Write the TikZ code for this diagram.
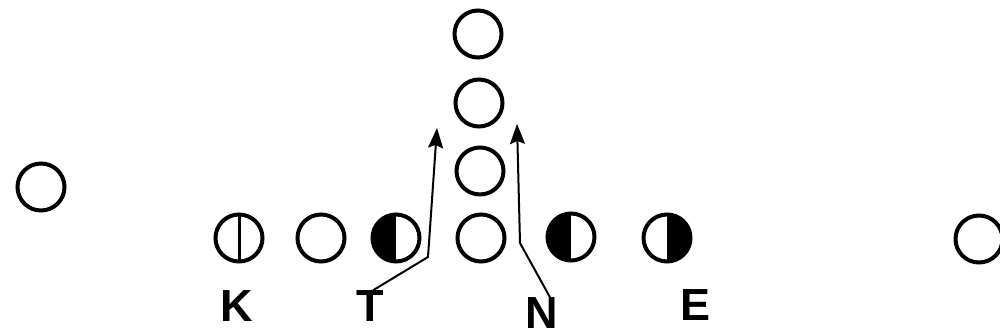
\documentclass[tikz,border=0pt]{standalone}
\usepackage{fontspec}
\setmainfont{Liberation Sans}
\usepackage{tikz}
\usetikzlibrary{arrows.meta,positioning}
\tikzset{
  player/.style  ={circle, draw=black, line width=4pt, minimum size=47pt,
                   inner sep=0pt, fill=white},
  split/.style   ={player, path picture={\draw[line width=3pt]
                   (path picture bounding box.north) -- (path picture bounding box.south);}},
  halfl/.style   ={player, path picture={\fill[black]
                   (path picture bounding box.north) rectangle (path picture bounding box.south west);}},
  halfr/.style   ={player, path picture={\fill[black]
                   (path picture bounding box.north) rectangle (path picture bounding box.south east);}},
  tag/.style     ={font=\fontsize{45}{45}\selectfont\bfseries, inner sep=0pt},
  route/.style   ={-{Stealth[length=20pt,width=15pt,inset=3pt]}, line width=2pt},
}
\begin{document}
\begin{tikzpicture}[x=1pt,y=-1pt]
    \useasboundingbox (0,0) rectangle (1000,336);

    % line of scrimmage
    \node[player] (wideL)   at (41,187)  {};
    \node[split]  (endL)    at (239,238) {};
    \node[player] (tackleL) at (321,238) {};
    \node[halfl]  (guardL)  at (396,238) {};
    \node[player] (centre)  at (481,238) {};
    \node[halfl]  (guardR)  at (571,237) {};
    \node[halfr]  (tackleR) at (667,238) {};
    \node[player] (wideR)   at (979,239) {};

    % backfield column
    \foreach \n/\x/\y in {back3/480/171, back2/479/103, back1/478/34}
        \node[player] (\n) at (\x,\y) {};

    \node[tag] (K) at (237,306) {K};
    \node[tag] (T) at (370,306) {T};
    \node[tag] (N) at (542,313) {N};
    \node[tag] (E) at (695,305) {E};

    \coordinate (bendL) at (428,257);
    \coordinate (tipL)  at (437,128);
    \coordinate (bendR) at (520,243);
    \coordinate (tipR)  at (517,124);
    \draw[route] ([xshift=3pt]T.north) -- (bendL) -- (tipL);
    \draw[route] ([xshift=8pt]N.north) -- (bendR) -- (tipR);
  \end{tikzpicture}
\end{document}
